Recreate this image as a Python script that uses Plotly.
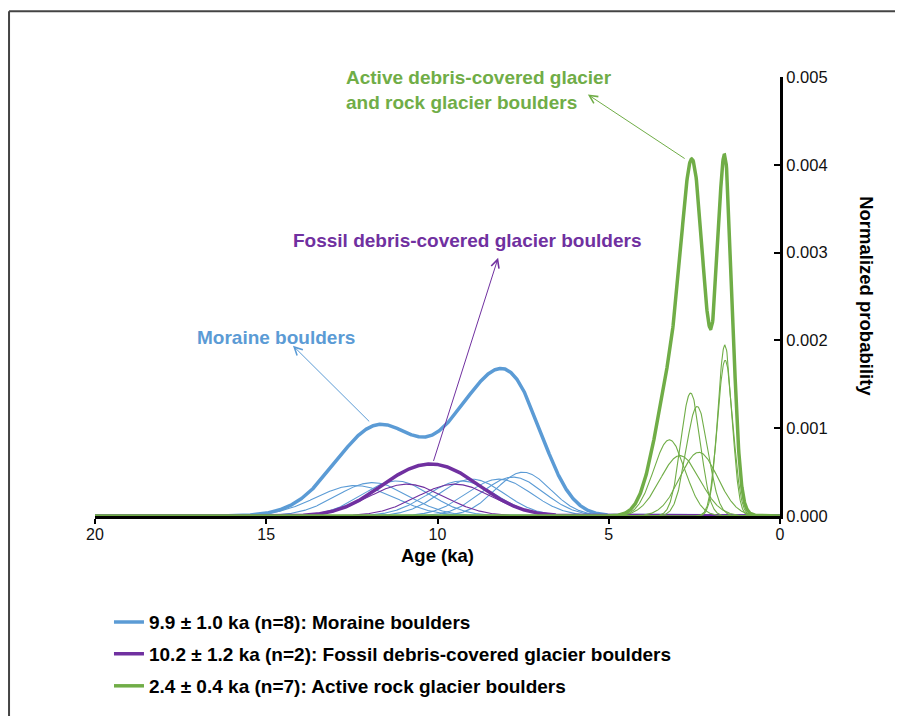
import numpy as np
import plotly.graph_objects as go

# ---- data: individual boulder exposure ages (ka) and 1-sigma uncertainties (ka)
moraine_ages = [12.4, 11.9, 11.2, 9.3, 9.0, 8.2, 7.8, 7.5]
moraine_errs = [1.15, 1.05, 1.00, 1.00, 0.95, 0.95, 0.90, 0.80]
fossil_ages = [10.9, 9.5]
fossil_errs = [1.10, 1.10]
active_ages = [3.23, 2.92, 2.61, 2.42, 2.37, 1.61, 1.60]
active_errs = [0.46, 0.58, 0.285, 0.32, 0.55, 0.205, 0.225]

legend_labels = [
    "9.9 ± 1.0 ka (n=8): Moraine boulders",
    "10.2 ± 1.2 ka (n=2): Fossil debris-covered glacier boulders",
    "2.4 ± 0.4 ka (n=7): Active rock glacier boulders",
]
x_ticks = [20, 15, 10, 5, 0]
y_ticks = [0.000, 0.001, 0.002, 0.003, 0.004, 0.005]

BLUE = "#5B9BD5"
PURPLE = "#7030A0"
GREEN = "#70AD47"
FONT = "Liberation Sans, Arial, sans-serif"

age_grid = np.linspace(0, 20, 2001)  # ka


def pdf(age_ka, err_ka):
    # probability density per year
    s = err_ka * 1000.0
    return np.exp(-0.5 * ((age_grid - age_ka) / err_ka) ** 2) / (s * np.sqrt(2 * np.pi))


fig = go.Figure()
groups = [
    (moraine_ages, moraine_errs, BLUE, legend_labels[0], "legend"),
    (fossil_ages, fossil_errs, PURPLE, legend_labels[1], "legend2"),
    (active_ages, active_errs, GREEN, legend_labels[2], "legend3"),
]
for ages, errs, col, lab, lg in groups:
    total = np.zeros_like(age_grid)
    for a, e in zip(ages, errs):
        p = pdf(a, e)
        total += p
        fig.add_trace(go.Scatter(x=age_grid, y=p, mode="lines",
                                 line=dict(color=col, width=1.1),
                                 showlegend=False, hoverinfo="skip"))
    fig.add_trace(go.Scatter(x=age_grid, y=total, mode="lines",
                             line=dict(color=col, width=3.5),
                             name=f"<b>{lab}</b>", legend=lg, showlegend=True))

# axes
fig.update_xaxes(range=[20, 0], tickvals=x_ticks, ticktext=[str(v) for v in x_ticks],
                 showline=True, linecolor="black", linewidth=3,
                 ticks="outside", ticklen=5, tickwidth=1.5, tickcolor="black",
                 ticklabelstandoff=-3,
                 showgrid=False, zeroline=False,
                 tickfont=dict(family=FONT, size=16, color="#111"))
fig.update_yaxes(range=[0, 0.005], side="right", tickvals=y_ticks,
                 ticktext=[f"{v:.3f}" for v in y_ticks],
                 showline=True, linecolor="black", linewidth=3,
                 ticks="inside", ticklen=6, tickwidth=1.5, tickcolor="black",
                 showgrid=False, zeroline=False,
                 tickfont=dict(family=FONT, size=16.5, color="#111"))

annotations = [
    dict(text="<b>Age (ka)</b>", xref="paper", yref="paper", x=0.5, y=-0.091,
         showarrow=False, font=dict(family=FONT, size=18.5, color="black"),
         xanchor="center", yanchor="middle"),
    dict(text="<b>Normalized probability</b>", xref="paper", yref="paper", x=1.126, y=0.5,
         showarrow=False, textangle=90, font=dict(family=FONT, size=18.5, color="black"),
         xanchor="center", yanchor="middle"),
    # labels
    dict(text="<b>Moraine boulders</b>", xref="x", yref="y", x=14.71, y=0.00203,
         showarrow=False, font=dict(family=FONT, size=19, color=BLUE),
         xanchor="center", yanchor="middle"),
    dict(text="<b>Fossil debris-covered glacier boulders</b>", xref="x", yref="y",
         x=9.14, y=0.003136, showarrow=False,
         font=dict(family=FONT, size=19, color=PURPLE), xanchor="center", yanchor="middle"),
    dict(text="<b>Active debris-covered glacier<br>and rock glacier boulders</b>",
         xref="x", yref="y", x=12.73, y=0.00485, showarrow=False, align="left",
         font=dict(family=FONT, size=19, color=GREEN), xanchor="left", yanchor="middle"),
    # arrows (head near the label, tail on the curve)
    dict(text="", xref="x", yref="y", x=14.22, y=0.00194, axref="x", ayref="y",
         ax=11.95, ay=0.00106, showarrow=True, arrowhead=5, arrowsize=1.6,
         arrowwidth=1, arrowcolor=BLUE),
    dict(text="", xref="x", yref="y", x=8.23, y=0.00294, axref="x", ayref="y",
         ax=10.13, ay=0.00061, showarrow=True, arrowhead=5, arrowsize=1.6,
         arrowwidth=1, arrowcolor=PURPLE),
    dict(text="", xref="x", yref="y", x=5.61, y=0.0048, axref="x", ayref="y",
         ax=2.74, ay=0.00406, showarrow=True, arrowhead=5, arrowsize=1.6,
         arrowwidth=1, arrowcolor=GREEN),
]

# outer frame: only the left and top edges are visible in the picture
frame = dict(color="#444", width=2)
shapes = [
    dict(type="line", xref="paper", yref="paper", x0=-0.1255, y0=-0.6, x1=-0.1255, y1=1.15,
         line=frame, layer="below"),
    dict(type="line", xref="paper", yref="paper", x0=-0.1255, y0=1.15, x1=1.3, y1=1.15,
         line=frame, layer="below"),
]

leg_common = dict(xref="paper", yref="paper", xanchor="left", yanchor="middle",
                  bgcolor="rgba(0,0,0,0)", font=dict(family=FONT, size=19, color="black"),
                  itemwidth=30)
fig.update_layout(
    width=895, height=708,
    margin=dict(l=87, r=123, t=69, b=199),
    paper_bgcolor="white", plot_bgcolor="white",
    annotations=annotations, shapes=shapes,
    legend=dict(x=0.0204, y=-0.239, **leg_common),
    legend2=dict(x=0.0204, y=-0.311, **leg_common),
    legend3=dict(x=0.0204, y=-0.384, **leg_common),
)

fig.write_html("out.html", post_script="document.body.style.overflow='hidden';")
